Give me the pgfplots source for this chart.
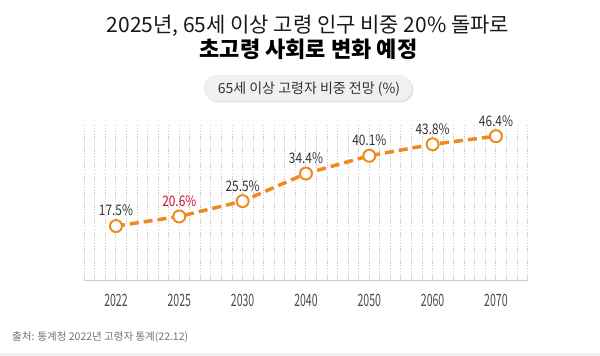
\documentclass[border=0pt]{standalone}
\usepackage{pgfplots}
\pgfplotsset{compat=1.18}
\usepackage{fontspec}
\setmainfont{Noto Sans CJK KR}
\newfontfamily\tickfont[FakeStretch=0.62]{Noto Sans CJK KR}
\newfontfamily\labfont[FakeStretch=0.82]{Noto Sans CJK KR}
\definecolor{orng}{HTML}{EE8A1E}
\definecolor{redlab}{HTML}{C8102E}
\definecolor{darklab}{HTML}{333333}
\definecolor{ticklab}{HTML}{4A4A4A}
\definecolor{gridc}{HTML}{C8C8C8}
\begin{document}
\begin{tikzpicture}[x=1pt,y=1pt]
\useasboundingbox (0,0) rectangle (600,356);
\fill[white] (0,0) rectangle (600,356);
\fill[black!5] (0,0) rectangle (600,3);
% titles
\node[anchor=base,inner sep=0,text=black!90] at (308,323) {\fontsize{21}{24}\selectfont 2025년, 65세 이상 고령 인구 비중 20\% 돌파로};
\node[anchor=base,inner sep=0] at (308.5,298.5) {\fontsize{22}{24}\selectfont\bfseries 초고령 사회로 변화 예정};
% pill
\fill[black!12,rounded corners=13pt] (205,253.5) rectangle (413.5,279.5);
\fill[black!6,rounded corners=13pt] (203.5,255) rectangle (412,281);
\node[anchor=base,inner sep=0,text=darklab] at (309,262.5) {\fontsize{14}{16}\selectfont 65세 이상 고령자 비중 전망 (\%)};
% source
\node[anchor=base west,inner sep=0,text=black!55] at (12,15) {\fontsize{10.5}{12}\selectfont 출처: 통계청 2022년 고령자 통계(22.12)};
\begin{axis}[
  at={(84.3pt,75.5pt)}, anchor=south west,
  scale only axis, width=443.3pt, height=155.5pt,
  xmin=-0.5, xmax=6.5, ymin=0, ymax=50,
  axis x line=bottom, axis y line=none,
  axis line style={-, draw=black!20, line width=1.2pt},
  xtick={0,1,2,3,4,5,6},
  xticklabels={2022,2025,2030,2040,2050,2060,2070},
  major tick length=0pt, minor tick length=0pt,
  xticklabel style={font=\tickfont\fontsize{17}{18}\selectfont, text=ticklab, anchor=center, yshift=-20pt},
  minor xtick={-0.5,-0.33333,...,6.6},
  minor ytick={0,3.33333,...,50.1},
  xminorgrids=true, yminorgrids=true,
  minor grid style={draw=gridc, line width=1pt, dash pattern=on 1.2pt off 1.6pt},
  clip=false,
]
\addplot[orng, line width=3.5pt, dash pattern=on 9pt off 5pt, mark=*, mark size=6pt,
  mark options={solid, fill=white, draw=orng, line width=2pt}]
  coordinates {(0,17.5) (1,20.6) (2,25.5) (3,34.4) (4,40.1) (5,43.8) (6,46.4)};
\addplot[draw=none, mark=none, point meta=explicit symbolic,
  nodes near coords,
  every node near coord/.append style={font=\labfont\fontsize{14.5}{16}\selectfont, text=darklab, anchor=center, yshift=15.5pt}]
  coordinates {(0,17.5) [17.5\%] (2,25.5) [25.5\%] (3,34.4) [34.4\%] (4,40.1) [40.1\%] (5,43.8) [43.8\%] (6,46.4) [46.4\%]};
\addplot[draw=none, mark=none, point meta=explicit symbolic,
  nodes near coords,
  every node near coord/.append style={font=\labfont\fontsize{14.5}{16}\selectfont, text=redlab, anchor=center, yshift=15.5pt}]
  coordinates {(1,20.6) [20.6\%]};
\end{axis}
\end{tikzpicture}
\end{document}
